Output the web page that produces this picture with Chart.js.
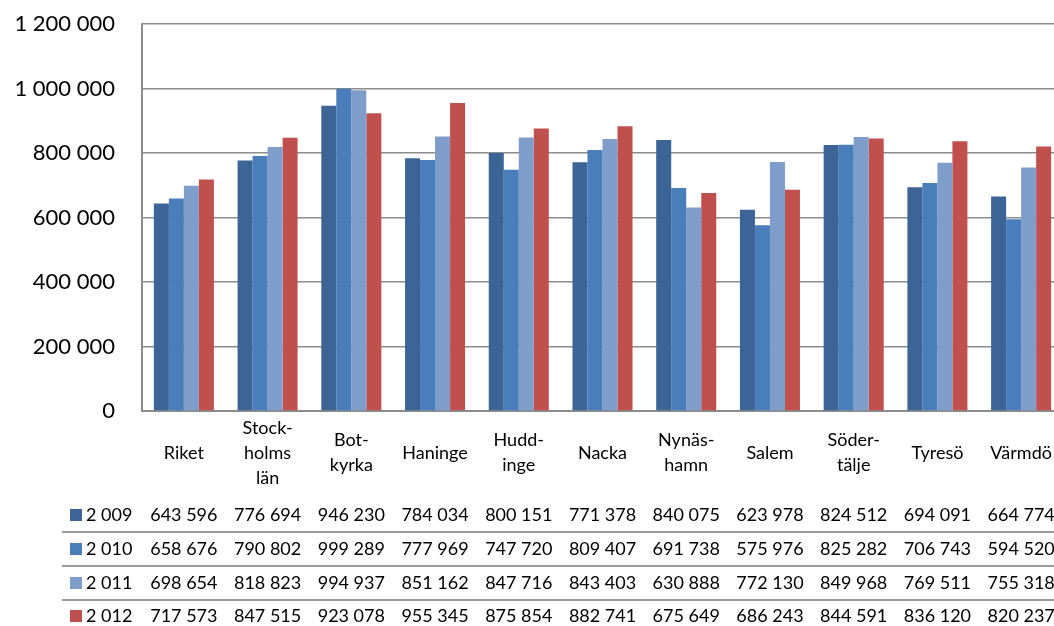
<!DOCTYPE html>
<html>
<head>
<meta charset="utf-8">
<script src="https://cdn.jsdelivr.net/npm/chart.js@4"></script>
<style>
  html, body { margin: 0; padding: 0; background: #fff; overflow: hidden; }
  #wrap { width: 1066px; height: 626px; }
</style>
</head>
<body>
<div id="wrap"><canvas id="c" width="1066" height="626"></canvas></div>
<script>
const categories = [
  ["Riket"], ["Stock-", "holms", "län"], ["Bot-", "kyrka"], ["Haninge"], ["Hudd-", "inge"],
  ["Nacka"], ["Nynäs-", "hamn"], ["Salem"], ["Söder-", "tälje"], ["Tyresö"], ["Värmdö"]
];
const seriesNames = ["2 009", "2 010", "2 011", "2 012"];
const values2009 = [643596, 776694, 946230, 784034, 800151, 771378, 840075, 623978, 824512, 694091, 664774];
const values2010 = [658676, 790802, 999289, 777969, 747720, 809407, 691738, 575976, 825282, 706743, 594520];
const values2011 = [698654, 818823, 994937, 851162, 847716, 843403, 630888, 772130, 849968, 769511, 755318];
const values2012 = [717573, 847515, 923078, 955345, 875854, 882741, 675649, 686243, 844591, 836120, 820237];
const seriesColors = ["#3C6496", "#4A7EBB", "#7F9DCA", "#C0504D"];

const FONT = "Lato, 'Open Sans', sans-serif";
const fmt = v => String(v).replace(/\B(?=(\d{3})+(?!\d))/g, " ");

const allSeries = [values2009, values2010, values2011, values2012];

const tablePlugin = {
  id: "tablePlugin",
  afterDraw(chart) {
    const ctx = chart.ctx;
    const x = chart.scales.x;
    ctx.save();
    ctx.fillStyle = "#000";
    ctx.textAlign = "center";
    ctx.textBaseline = "middle";
    ctx.font = "18px " + FONT;
    // category labels
    const lh = 25, cy = 453;
    categories.forEach((lines, i) => {
      const px = x.getPixelForValue(i);
      const start = cy - (lines.length - 1) * lh / 2;
      lines.forEach((t, j) => ctx.fillText(t, px, start + j * lh));
    });
    // data table
    const rowY = [515, 549, 583, 616];
    const sepY = [532, 566, 600];
    ctx.strokeStyle = "#9a9a9a";
    ctx.lineWidth = 2;
    sepY.forEach(y => {
      ctx.beginPath(); ctx.moveTo(62, y); ctx.lineTo(chart.width, y); ctx.stroke();
    });
    allSeries.forEach((vals, s) => {
      const y = rowY[s];
      ctx.fillStyle = seriesColors[s];
      ctx.fillRect(70, y - 6, 12, 12);
      ctx.fillStyle = "#000";
      ctx.textAlign = "left";
      ctx.fillText(seriesNames[s], 86, y);
      ctx.textAlign = "center";
      vals.forEach((v, i) => ctx.fillText(fmt(v), x.getPixelForValue(i), y));
    });
    ctx.restore();
  }
};

new Chart(document.getElementById("c"), {
  type: "bar",
  data: {
    labels: categories.map(l => l.join(" ")),
    datasets: allSeries.map((vals, s) => ({
      label: seriesNames[s],
      data: vals,
      backgroundColor: seriesColors[s],
      borderWidth: 0,
      barPercentage: 1.0,
      categoryPercentage: 0.717
    }))
  },
  options: {
    responsive: false,
    animation: false,
    layout: { padding: { top: 24, right: 3, bottom: 215, left: 0 } },
    plugins: { legend: { display: false }, tooltip: { enabled: false } },
    scales: {
      x: {
        grid: { display: false, drawTicks: false },
        border: { display: true, color: "#8c8c8c", width: 2 },
        ticks: { display: false },
        afterFit: s => { s.height = 0; }
      },
      y: {
        min: 0, max: 1200000,
        grid: { color: "#8c8c8c", lineWidth: 1.5, drawTicks: true, tickLength: 24, tickColor: "rgba(0,0,0,0)" },
        border: { display: true, color: "#8c8c8c", width: 2 },
        ticks: {
          stepSize: 200000,
          padding: 3,
          color: "#000",
          font: { family: FONT, size: 22 },
          callback: v => fmt(v)
        },
        afterFit: s => { s.width = 142; }
      }
    }
  },
  plugins: [tablePlugin]
});
</script>
</body>
</html>
